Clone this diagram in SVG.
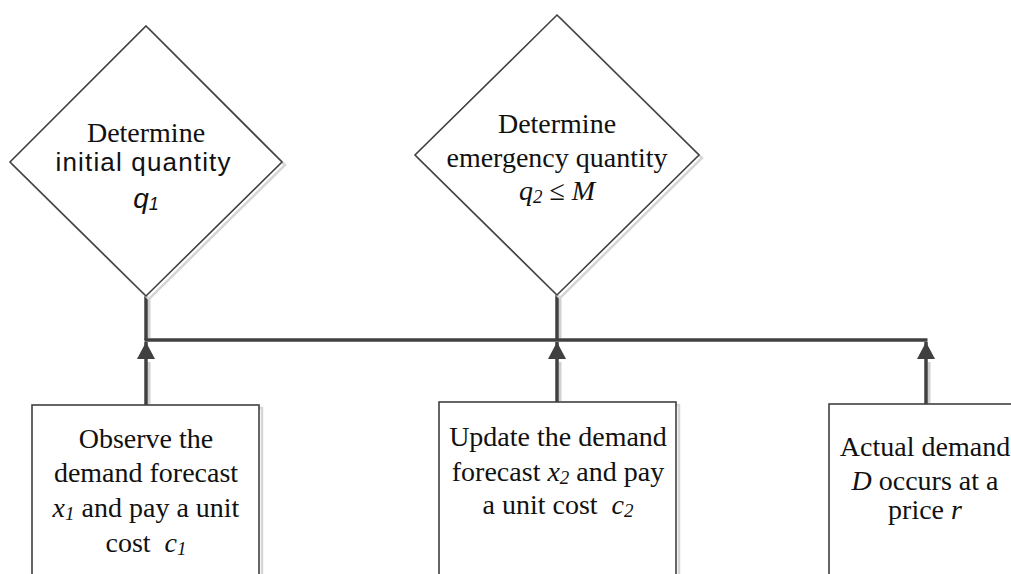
<svg xmlns="http://www.w3.org/2000/svg" width="1011" height="574" viewBox="0 0 1011 574">
<defs>
<style>
.shape{fill:#ffffff;stroke:#404040;stroke-width:1.6}
.shadow{fill:none;stroke:#d6d6d6;stroke-width:2.5}
.conn{stroke:#404040;stroke-width:3.5;fill:none}
.connsh{stroke:#d0d0d0;stroke-width:3;fill:none}
.serif{font-family:"Liberation Serif","Times New Roman",serif;font-size:28px;fill:#111;text-anchor:middle}
.sans{font-family:"Liberation Sans",Arial,sans-serif;font-size:26px;fill:#111;text-anchor:middle}
.it{font-style:italic}
</style>
<marker id="arr" markerWidth="18" markerHeight="18" viewBox="0 0 18 18" refX="17" refY="9" orient="auto" markerUnits="userSpaceOnUse">
<path d="M0,0 L17,9 L0,18 Z" fill="#404040"/>
</marker>
</defs>
<rect width="1011" height="574" fill="#ffffff"/>

<g id="connectors">
<line class="connsh" x1="149" y1="298" x2="149" y2="338"/>
<line class="connsh" x1="560" y1="298" x2="560" y2="338"/>
<line class="connsh" x1="149" y1="362" x2="149" y2="404"/>
<line class="connsh" x1="560" y1="362" x2="560" y2="401"/>
<line class="connsh" x1="929" y1="362" x2="929" y2="403"/>
<line class="conn" x1="146" y1="296" x2="146" y2="340"/>
<line class="conn" x1="557" y1="295" x2="557" y2="340"/>
<line class="conn" x1="144.5" y1="340" x2="927.5" y2="340"/>
<path class="conn" d="M146,405 L146,342" marker-end="url(#arr)"/>
<path class="conn" d="M557,402 L557,342" marker-end="url(#arr)"/>
<path class="conn" d="M926,404 L926,342" marker-end="url(#arr)"/>
</g>

<g id="decision1">
<polygon class="shadow" points="149,29 285,165 149,299 13,165"/>
<polygon class="shape" points="146,26 282,162 146,296 10,162"/>
<text class="serif" x="146" y="142">Determine</text>
<text class="sans" x="143" y="171" textLength="175" lengthAdjust="spacing">initial quantity</text>
<text class="sans it" x="146" y="208" style="font-size:28px">q<tspan font-size="18" dy="2">1</tspan></text>
</g>

<g id="decision2">
<polygon class="shadow" points="560,18 702,158 560,298 418,158"/>
<polygon class="shape" points="557,15 699,155 557,295 415,155"/>
<text class="serif" x="557" y="133">Determine</text>
<text class="serif" x="557" y="167">emergency quantity</text>
<text class="serif" x="557" y="200"><tspan class="it">q</tspan><tspan font-size="19" dy="3" class="it">2</tspan><tspan dy="-3"> ≤ </tspan><tspan class="it">M</tspan></text>
</g>

<g id="box1">
<rect class="shadow" x="35" y="408" width="227" height="200"/>
<rect class="shape" x="32" y="405" width="227" height="200"/>
<text class="serif" x="146" y="448">Observe the</text>
<text class="serif" x="146" y="482">demand forecast</text>
<text class="serif" x="146" y="517"><tspan class="it">x</tspan><tspan class="it" font-size="19" dy="3">1</tspan><tspan dy="-3"> and pay a unit</tspan></text>
<text class="serif" x="146" y="552" xml:space="preserve">cost  <tspan class="it">c</tspan><tspan class="it" font-size="19" dy="3">1</tspan></text>
</g>

<g id="box2">
<rect class="shadow" x="442" y="405" width="237" height="200"/>
<rect class="shape" x="439" y="402" width="237" height="200"/>
<text class="serif" x="558" y="446">Update the demand</text>
<text class="serif" x="558" y="481">forecast <tspan class="it">x</tspan><tspan class="it" font-size="19" dy="3">2</tspan><tspan dy="-3"> and pay</tspan></text>
<text class="serif" x="558" y="514" xml:space="preserve">a unit cost  <tspan class="it">c</tspan><tspan class="it" font-size="19" dy="3">2</tspan></text>
</g>

<g id="box3">
<rect class="shadow" x="832" y="407" width="200" height="200"/>
<rect class="shape" x="829" y="404" width="200" height="200"/>
<text class="serif" x="925" y="456">Actual demand</text>
<text class="serif" x="925" y="490"><tspan class="it">D</tspan> occurs at a</text>
<text class="serif" x="925" y="519">price <tspan class="it">r</tspan></text>
</g>
</svg>
